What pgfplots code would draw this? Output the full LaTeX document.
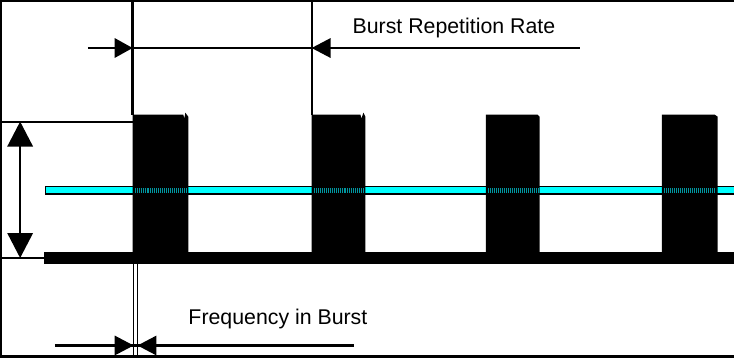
\documentclass[border=0pt]{standalone}
\usepackage{pgfplots}
\pgfplotsset{compat=1.18}
\usepackage{fontspec}
\setmainfont{Liberation Sans}
\definecolor{cy}{RGB}{0,255,255}
\definecolor{tl}{RGB}{0,150,160}
\begin{document}
\begin{tikzpicture}
\begin{axis}[
  width=738bp, height=361bp, scale only axis,
  xmin=0, xmax=738, ymin=0, ymax=361, y dir=reverse,
  hide axis, clip=false,
]
% frame
\addplot[black, line width=2.5bp] coordinates {(738,2) (2,2) (2,359) (738,359)};
% cyan line
\addplot[black, line width=9bp] coordinates {(46,192) (738,192)};
\addplot[cy, line width=6bp] coordinates {(47,192) (738,192)};
% baseline bar
\addplot[fill=black, draw=none] coordinates {(45,254) (738,254) (738,266) (45,266)} --cycle;
% bursts
\addplot[fill=black, draw=none] coordinates {(134,266) (134,116) (185,116) (186,120) (187,114) (190,118) (190,266)} --cycle;
\addplot[fill=black, draw=none] coordinates {(314,266) (314,116) (363,116) (364,120) (366,114) (368,118) (368,266)} --cycle;
\addplot[fill=black, draw=none] coordinates {(489,266) (489,116) (541,116) (543,118) (543,266)} --cycle;
\addplot[fill=black, draw=none] coordinates {(666,266) (666,116) (719,116) (722,118) (722,266)} --cycle;
% teal stripes in bursts
\addplot[tl, line width=5bp, dash pattern=on 1bp off 1bp] coordinates {(136,192) (189,192)};
\addplot[tl, line width=5bp, dash pattern=on 1bp off 1bp] coordinates {(316,192) (367,192)};
\addplot[tl, line width=5bp, dash pattern=on 1bp off 1bp] coordinates {(491,192) (542,192)};
\addplot[tl, line width=5bp, dash pattern=on 1bp off 1bp] coordinates {(668,192) (720,192)};
% vertical lines
\addplot[black, line width=2.2bp] coordinates {(134,3) (134,116)};
\addplot[black, line width=2.2bp] coordinates {(314,3) (314,116)};
\addplot[black, line width=1.5bp] coordinates {(135,266) (135,359)};
\addplot[black, line width=1.5bp] coordinates {(139,266) (139,359)};
% left height indicator
\addplot[black, line width=2.2bp] coordinates {(3,123) (134,123)};
\addplot[black, line width=2.2bp] coordinates {(3,260) (45,260)};
\addplot[black, line width=2.2bp] coordinates {(21,140) (21,243)};
\addplot[fill=black, draw=none] coordinates {(8,148) (21,123) (34,148)} --cycle;
\addplot[fill=black, draw=none] coordinates {(8,235) (21,260) (34,235)} --cycle;
% burst repetition rate arrows
\addplot[black, line width=2.2bp] coordinates {(89,49) (584,49)};
\addplot[fill=black, draw=none] coordinates {(116,39) (134,49) (116,59)} --cycle;
\addplot[fill=black, draw=none] coordinates {(333,39) (314,49) (333,59)} --cycle;
% frequency in burst arrows
\addplot[black, line width=2.2bp] coordinates {(56,348) (357,348)};
\addplot[fill=black, draw=none] coordinates {(116,338) (135,348) (116,358)} --cycle;
\addplot[fill=black, draw=none] coordinates {(158,338) (139,348) (158,358)} --cycle;
% labels
\node[anchor=base west, inner sep=0pt, font=\fontsize{21.5}{25}\selectfont] at (axis cs:355,34) {Burst Repetition Rate};
\node[anchor=base west, inner sep=0pt, font=\fontsize{21.5}{25}\selectfont] at (axis cs:190,327) {Frequency in Burst};
\end{axis}
\end{tikzpicture}
\end{document}
